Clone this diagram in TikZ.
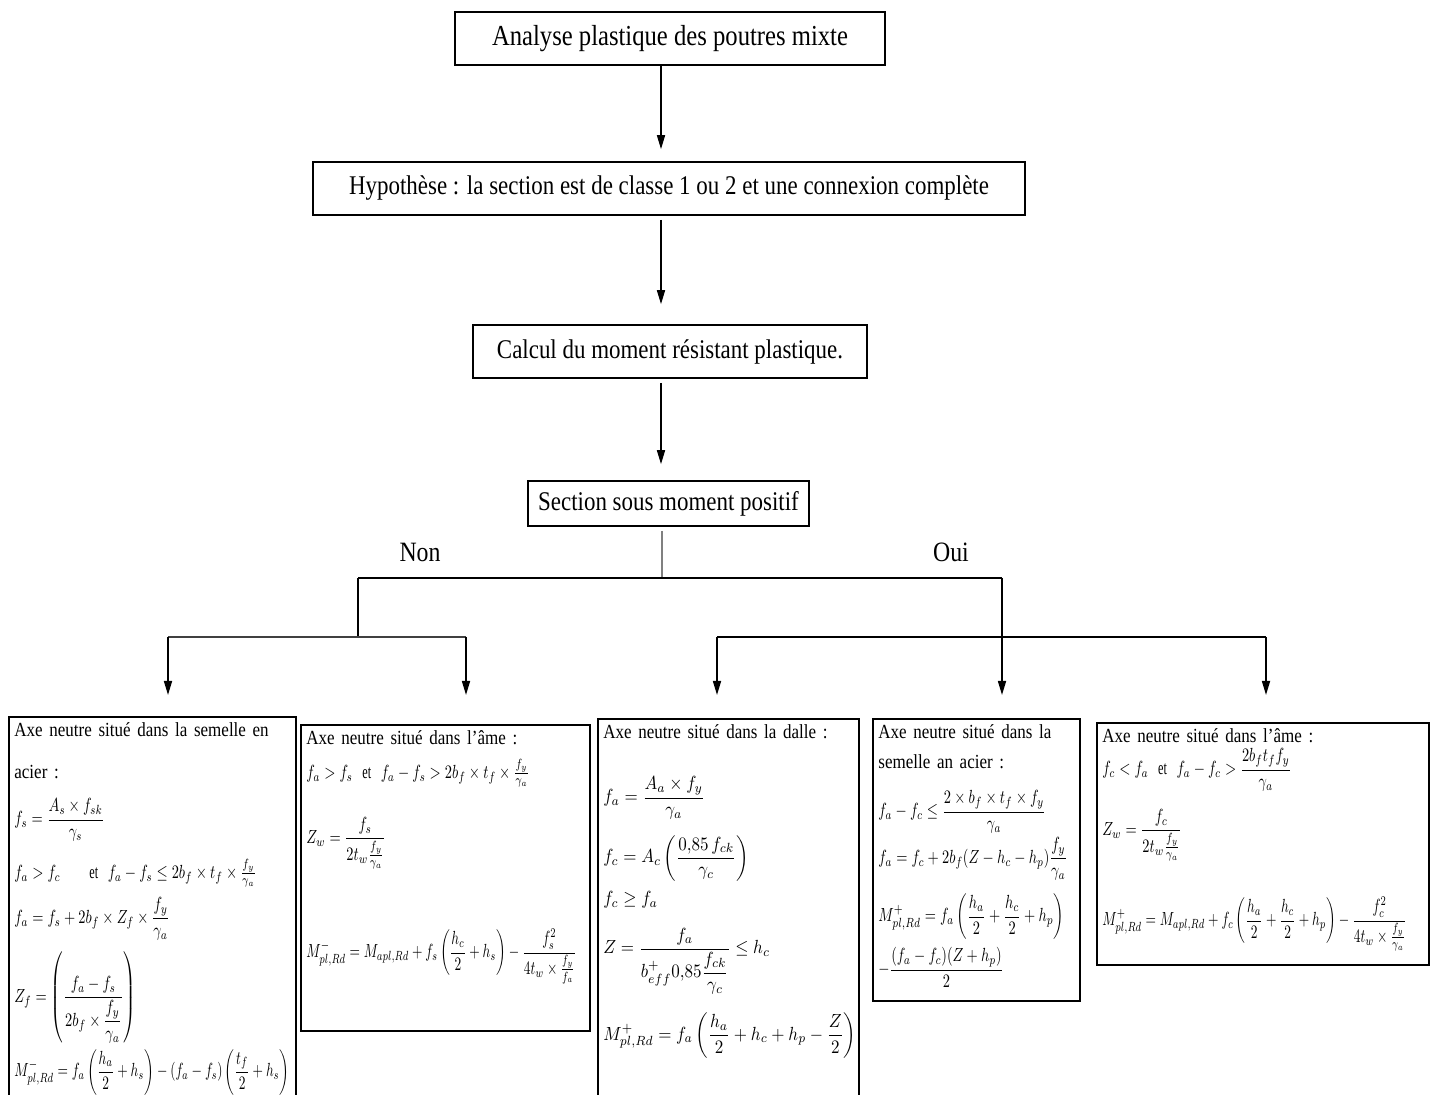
\documentclass[tikz,border=0pt]{standalone}
\usepackage{fontspec}
\setmainfont{Liberation Serif}[FakeStretch=0.85]
\usepackage{amsmath}
\usepackage{graphicx}
\usetikzlibrary{arrows.meta,positioning,calc}

% condensed display maths, as in the boxes
\newcommand{\fml}[1]{\scalebox{0.72}[0.95]{$\displaystyle #1$}}
\newcommand{\fmlm}[1]{\scalebox{0.67}[0.95]{$\displaystyle #1$}}
\newcommand{\fmlw}[1]{\scalebox{0.85}[0.95]{$\displaystyle #1$}}

\begin{document}
\begin{tikzpicture}[
      x=0.5pt,y=-0.5pt,
      headbox/.style={rectangle,draw=black,line width=0.8pt,inner sep=0pt,
                      font=\fontsize{13.5}{16}\selectfont},
      panel/.style={rectangle,draw=black,line width=0.8pt,anchor=north west,inner sep=0pt},
      paneltext/.style={anchor=north west,align=left,inner sep=3pt,
                        font=\fontsize{10}{12}\selectfont},
      branch/.style={draw=black,line width=0.8pt},
      arrow/.style={-{Triangle[length=7pt,width=4pt]},line width=0.8pt,draw=black}
    ]
    \useasboundingbox (0,0) rectangle (1435,1095);

    % Main chain
    \node[headbox,font=\fontsize{14.5}{17}\selectfont,minimum width=215pt,minimum height=26.5pt] (title) at (670,38.5)
      {Analyse plastique des poutres mixte};
    \node[headbox,minimum width=356pt,minimum height=26.5pt] (hyp) at (669,188.5)
      {Hypothèse : la section est de classe 1 ou 2 et une connexion complète};
    \node[headbox,minimum width=197pt,minimum height=26.5pt] (calc) at (670,351.5)
      {Calcul du moment résistant plastique.};
    \node[headbox,minimum width=140.5pt,minimum height=22.5pt] (sect) at (668.5,503.5)
      {Section sous moment positif};

    \coordinate (spine) at (661,0);
    \draw[arrow] (title.south -| spine) -- ([yshift=6pt]hyp.north -| spine);
    \draw[arrow] ([yshift=-2pt]hyp.south -| spine) -- ([yshift=10pt]calc.north -| spine);
    \draw[arrow] ([yshift=-2pt]calc.south -| spine) -- ([yshift=8pt]sect.north -| spine);

    % Split Non / Oui
    \coordinate (split) at (662,578);
    \coordinate (non) at (358,578);
    \coordinate (oui) at (1002,578);
    \coordinate (nonbar) at (358,637);
    \coordinate (ouibar) at (1002,637);
    \node[font=\fontsize{14}{17}\selectfont] (nonlab) at (420,552) {Non};
    \node[font=\fontsize{14}{17}\selectfont] (ouilab) at (951,552) {Oui};

    \draw[draw=gray,line width=0.9pt] ([yshift=-2pt]sect.south -| split) -- (split);
    \draw[branch] (non) -- (oui);
    \draw[branch] (non) -- (nonbar);

    % Arrow heads above the panels
    \coordinate (h1) at (168,695);
    \coordinate (h2) at (466,695);
    \coordinate (h3) at (717,695);
    \coordinate (h4) at (1002,695);
    \coordinate (h5) at (1266,695);

    \draw[branch,draw=black!75] (h1 |- nonbar) -- (h2 |- nonbar);
    \draw[branch] (h3 |- ouibar) -- (h5 |- ouibar);
    \draw[arrow] (h1 |- nonbar) -- (h1);
    \draw[arrow] (h2 |- nonbar) -- (h2);
    \draw[arrow] (h3 |- ouibar) -- (h3);
    \draw[arrow] (oui) -- (h4);
    \draw[arrow] (h5 |- ouibar) -- (h5);

    % Panels
    \node[panel,minimum width=143.5pt,minimum height=200pt] (b1) at (8,716) {};
    \node[paneltext,text width=137.5pt] (t1) at (b1.north west)
      {Axe neutre situé dans la semelle en\\[9pt]
       acier :\\[9pt]
       \fml{f_s=\frac{A_s\times f_{sk}}{\gamma_s}}\\[8pt]
       \fml{f_a>f_c\qquad\text{et}\ \ f_a-f_s\le 2b_f\times t_f\times\tfrac{f_y}{\gamma_a}}\\[4pt]
       \fml{f_a=f_s+2b_f\times Z_f\times\frac{f_y}{\gamma_a}}\\[5pt]
       \fml{Z_f=\left(\frac{f_a-f_s}{2b_f\times\dfrac{f_y}{\gamma_a}}\right)}\\[2pt]
       \fmlm{M^-_{pl,Rd}=f_a\left(\frac{h_a}{2}+h_s\right)-(f_a-f_s)\left(\frac{t_f}{2}+h_s\right)}};

    \node[panel,minimum width=144.5pt,minimum height=153pt] (b2) at (300,724) {};
    \node[paneltext,text width=138.5pt] (t2) at (b2.north west)
      {Axe neutre situé dans l’âme :\\[5pt]
       \fml{f_a>f_s\ \ \text{et}\ \ f_a-f_s>2b_f\times t_f\times\tfrac{f_y}{\gamma_a}}\\[14pt]
       \fml{Z_w=\frac{f_s}{2t_w\tfrac{f_y}{\gamma_a}}}\\[29pt]
       \fmlm{M^-_{pl,Rd}=M_{apl,Rd}+f_s\left(\frac{h_c}{2}+h_s\right)-\frac{f_s^2}{4t_w\times\tfrac{f_y}{f_a}}}};

    \node[panel,minimum width=130.5pt,minimum height=200pt] (b3) at (597,718) {};
    \node[paneltext,text width=124.5pt] (t3) at (b3.north west)
      {Axe neutre situé dans la dalle :\\[18pt]
       \fmlw{f_a=\frac{A_a\times f_y}{\gamma_a}}\\[7pt]
       \fmlw{f_c=A_c\left(\frac{0{,}85\,f_{ck}}{\gamma_c}\right)}\\[4pt]
       \fmlw{f_c\ge f_a}\\[9pt]
       \fmlw{Z=\frac{f_a}{b^+_{eff}0{,}85\dfrac{f_{ck}}{\gamma_c}}\le h_c}\\[8pt]
       \fmlw{M^+_{pl,Rd}=f_a\left(\frac{h_a}{2}+h_c+h_p-\frac{Z}{2}\right)}};

    \node[panel,minimum width=103.5pt,minimum height=141pt] (b4) at (872,718) {};
    \node[paneltext,text width=97.5pt] (t4) at (b4.north west)
      {Axe neutre situé dans la\\[3pt]
       semelle an acier :\\[10pt]
       \fml{f_a-f_c\le\frac{2\times b_f\times t_f\times f_y}{\gamma_a}}\\[1pt]
       \fml{f_a=f_c+2b_f(Z-h_c-h_p)\frac{f_y}{\gamma_a}}\\[6pt]
       \fml{M^+_{pl,Rd}=f_a\left(\frac{h_a}{2}+\frac{h_c}{2}+h_p\right)}\\[3pt]
       \fml{-\frac{(f_a-f_c)(Z+h_p)}{2}}};

    \node[panel,minimum width=166pt,minimum height=121pt] (b5) at (1096,722) {};
    \node[paneltext,text width=160pt] (t5) at (b5.north west)
      {Axe neutre situé dans l’âme :\\[2pt]
       \fml{f_c<f_a\ \ \text{et}\ \ f_a-f_c>\frac{2b_ft_ff_y}{\gamma_a}}\\[8pt]
       \fml{Z_w=\frac{f_c}{2t_w\tfrac{f_y}{\gamma_a}}}\\[17pt]
       \fmlm{M^+_{pl,Rd}=M_{apl,Rd}+f_c\left(\frac{h_a}{2}+\frac{h_c}{2}+h_p\right)-\frac{f_c^2}{4t_w\times\tfrac{f_y}{\gamma_a}}}};

  \end{tikzpicture}
\end{document}
